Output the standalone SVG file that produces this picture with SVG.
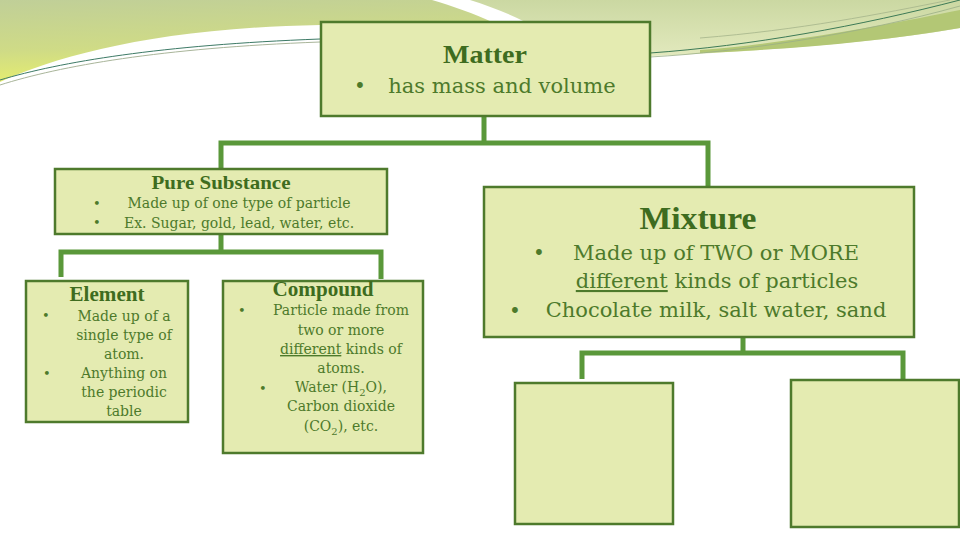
<svg xmlns="http://www.w3.org/2000/svg" width="960" height="540" viewBox="0 0 960 540">
  <defs>
    <linearGradient id="gTL" x1="0" y1="0" x2="0.2" y2="1">
      <stop offset="0" stop-color="#c0cf98"/>
      <stop offset="0.6" stop-color="#cfdb86"/>
      <stop offset="1" stop-color="#e6ee6e"/>
    </linearGradient>
    <linearGradient id="gTR" x1="0" y1="0" x2="0" y2="1">
      <stop offset="0" stop-color="#cbd8a2"/>
      <stop offset="1" stop-color="#e2e9bd"/>
    </linearGradient>
    <style>
      .box { fill: #e4ebb1; stroke: #4e7a2c; stroke-width: 2.5; }
      .conn { fill: none; stroke: #5a983a; stroke-width: 5; stroke-linejoin: miter; }
      .title { font-family: "Liberation Serif", "DejaVu Serif", serif; font-weight: bold; fill: #3e6c20; text-anchor: middle; }
      .body { font-family: "DejaVu Serif", "Liberation Serif", serif; fill: #4d7a2b; }
      .mid { text-anchor: middle; }
    </style>
  </defs>

  <rect width="960" height="540" fill="#ffffff"/>

  <!-- background swooshes -->
  <g id="background">
    <path d="M0,0 H432 C452,6 475,14 492,22 L492,40 L320,40 L320,25 C160,28 60,55 0,82 Z" fill="url(#gTL)"/>
    <path d="M470,0 H960 V28 C880,42 780,50 650,56 L640,56 L640,30 L540,30 C520,18 495,8 470,0 Z" fill="url(#gTR)"/>
    <path d="M700,50 C800,42 900,22 960,10 V28 C880,42 780,50 700,53 Z" fill="#b3c775"/>
    <path d="M0,80 C60,62 160,45 320,39" fill="none" stroke="#3d7a66" stroke-width="1"/>
    <path d="M0,85 C60,66 160,48 320,42" fill="none" stroke="#a9b59a" stroke-width="1"/>
    <path d="M650,53 C750,46 860,26 960,0" fill="none" stroke="#3d7a56" stroke-width="1"/>
    <path d="M650,57 C740,52 860,34 960,6" fill="none" stroke="#9aae86" stroke-width="0.8"/>
    <path d="M700,38 C800,30 880,14 950,0" fill="none" stroke="#a4b48a" stroke-width="0.8"/>
  </g>

  <!-- connectors -->
  <g id="connectors">
    <path class="conn" d="M484,117 V143 M221,170 V143 H708 V188"/>
    <path class="conn" d="M221,235 V252 M61,277 V252 H381 V279"/>
    <path class="conn" d="M743,337 V353 M582,379 V353 H903 V379"/>
  </g>

  <g id="matter">
    <rect class="box" x="321" y="22" width="329" height="94"/>
    <text class="title" x="485" y="63" font-size="26" textLength="84" lengthAdjust="spacingAndGlyphs">Matter</text>
    <text class="body" x="354" y="93" font-size="20">•</text>
    <text class="body mid" x="502" y="93" font-size="21">has mass and volume</text>
  </g>

  <g id="pure-substance">
    <rect class="box" x="55" y="169" width="332" height="65"/>
    <text class="title" x="221" y="189" font-size="19" textLength="139" lengthAdjust="spacingAndGlyphs">Pure Substance</text>
    <text class="body" x="93" y="208" font-size="13">•</text>
    <text class="body" x="93" y="227" font-size="13">•</text>
    <text class="body mid" x="239" y="208" font-size="14">Made up of one type of particle</text>
    <text class="body mid" x="239" y="228" font-size="14">Ex. Sugar, gold, lead, water, etc.</text>
  </g>

  <g id="element">
    <rect class="box" x="26" y="281" width="162" height="141"/>
    <text class="title" x="107" y="301" font-size="20" textLength="75" lengthAdjust="spacingAndGlyphs">Element</text>
    <text class="body" x="42" y="320" font-size="13">•</text>
    <text class="body" x="43" y="378" font-size="13">•</text>
    <text class="body mid" x="124" y="321" font-size="14">Made up of a</text>
    <text class="body mid" x="124" y="340" font-size="14">single type of</text>
    <text class="body mid" x="124" y="359" font-size="14">atom.</text>
    <text class="body mid" x="124" y="378" font-size="14">Anything on</text>
    <text class="body mid" x="124" y="397" font-size="14">the periodic</text>
    <text class="body mid" x="124" y="416" font-size="14">table</text>
  </g>

  <g id="compound">
    <rect class="box" x="223" y="281" width="200" height="172"/>
    <text class="title" x="323" y="296" font-size="20" textLength="101" lengthAdjust="spacingAndGlyphs">Compound</text>
    <text class="body" x="238" y="315" font-size="13">•</text>
    <text class="body" x="259" y="393" font-size="13">•</text>
    <text class="body mid" x="341" y="315" font-size="14">Particle made from</text>
    <text class="body mid" x="341" y="335" font-size="14">two or more</text>
    <text class="body mid" x="341" y="354" font-size="14"><tspan text-decoration="underline">different</tspan> kinds of</text>
    <text class="body mid" x="341" y="373" font-size="14">atoms.</text>
    <text class="body mid" x="341" y="392" font-size="14">Water (H<tspan font-size="10" dy="4">2</tspan><tspan dy="-4">O),</tspan></text>
    <text class="body mid" x="341" y="411" font-size="14">Carbon dioxide</text>
    <text class="body mid" x="341" y="431" font-size="14">(CO<tspan font-size="10" dy="4">2</tspan><tspan dy="-4">), etc.</tspan></text>
  </g>

  <g id="mixture">
    <rect class="box" x="484" y="187" width="430" height="150"/>
    <text class="title" x="698" y="229" font-size="32" textLength="117" lengthAdjust="spacingAndGlyphs">Mixture</text>
    <text class="body" x="533" y="260" font-size="20">•</text>
    <text class="body" x="509" y="318" font-size="20">•</text>
    <text class="body mid" x="716" y="260" font-size="21">Made up of TWO or MORE</text>
    <text class="body mid" x="717" y="288" font-size="21"><tspan text-decoration="underline">different</tspan> kinds of particles</text>
    <text class="body mid" x="716" y="317" font-size="21">Chocolate milk, salt water, sand</text>
  </g>

  <g id="mixture-child-1">
    <rect class="box" x="515" y="383" width="158" height="141"/>
  </g>

  <g id="mixture-child-2">
    <rect class="box" x="791" y="380" width="168" height="147"/>
  </g>
</svg>
